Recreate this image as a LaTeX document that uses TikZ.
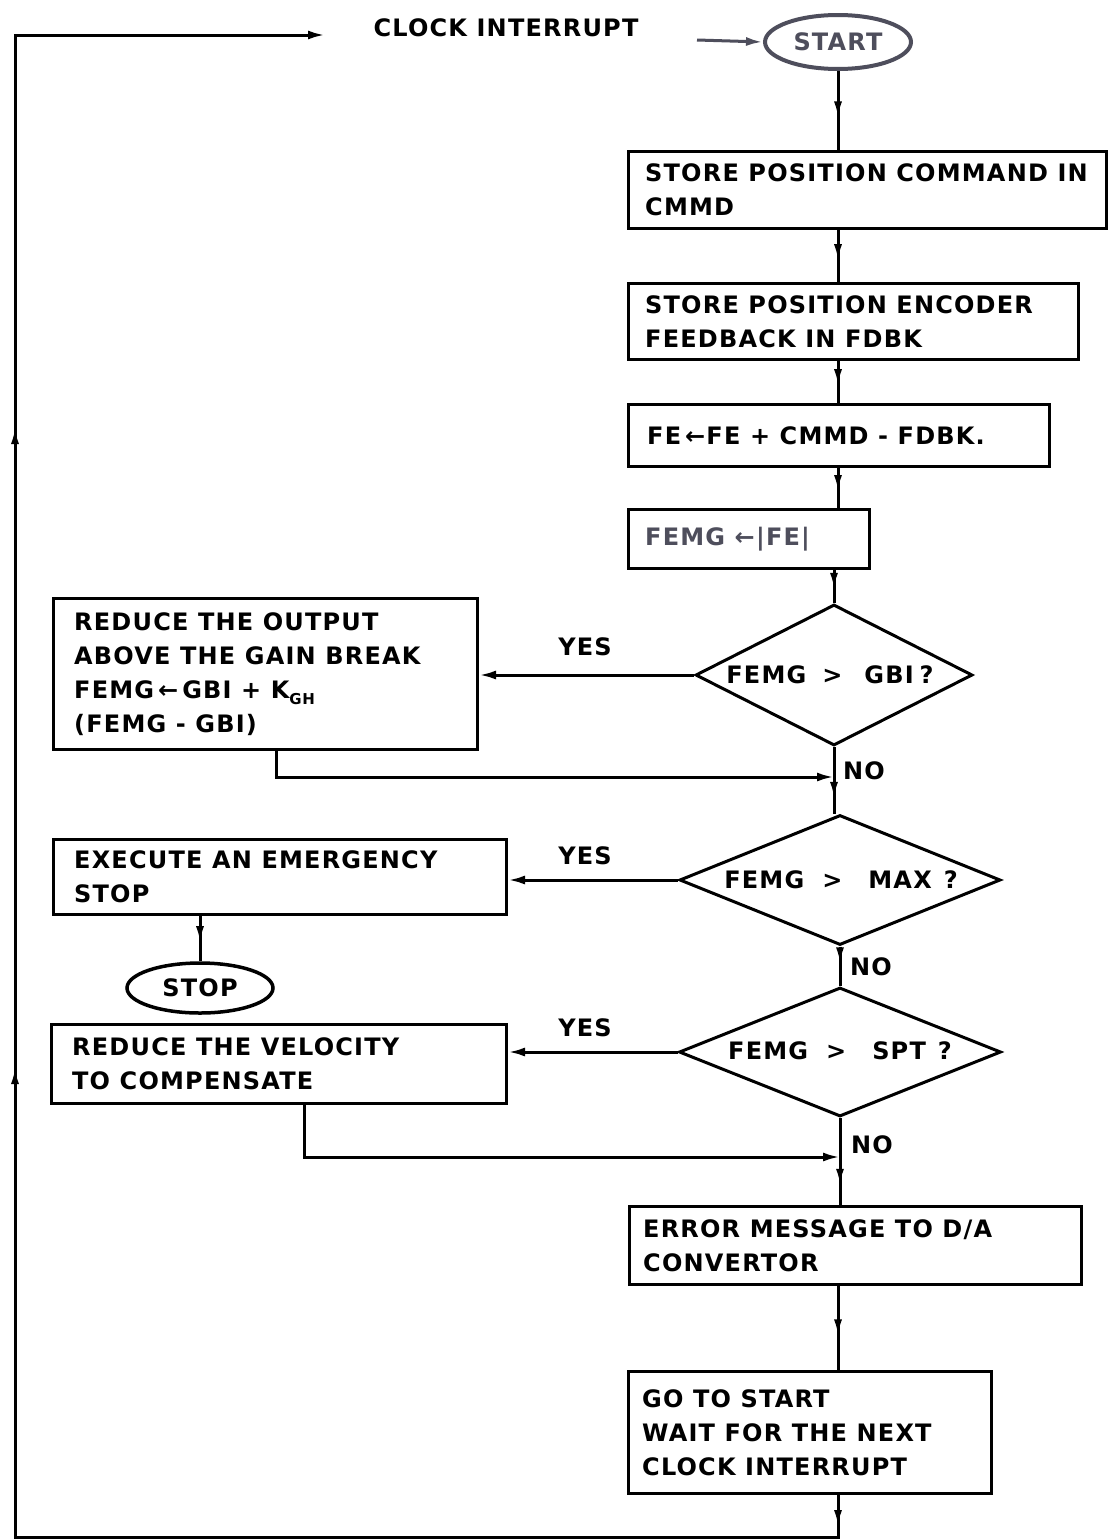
\documentclass[tikz,border=0pt]{standalone}
\usepackage{fontspec}
\setmainfont{DejaVu Sans}[LetterSpace=5]
\usetikzlibrary{arrows.meta,decorations.markings,shapes.geometric}
\definecolor{scangray}{RGB}{78,78,92}
\newcommand\boxfont{\fontsize{24}{34}\selectfont\bfseries}
\begin{document}
\begin{tikzpicture}[x=1pt,y=-1pt,
  flow/.style={line width=3pt, draw=black},
  tipa/.tip={Latex[length=17pt,width=9pt]},
  >=tipa,
  midarrow/.style={postaction={decorate},decoration={markings,
      mark=at position #1 with {\arrow{Latex[length=17pt,width=8pt]}}}},
  midarrow/.default=0.6,
  box/.style={draw, line width=3pt, rectangle, anchor=north west, inner sep=0pt},
  txt/.style={anchor=west, align=left, inner sep=0pt, font=\boxfont},
  lbl/.style={anchor=center, inner sep=0pt, font=\boxfont},
  dia/.style={diamond, draw, line width=3pt, inner sep=0pt},
  oval/.style={ellipse, draw, line width=3.5pt, inner sep=0pt, font=\boxfont}
]
\useasboundingbox (0,0) rectangle (1108,1539);
\fill[white] (0,0) rectangle (1108,1539);

% top
\node[lbl] (clk) at (506,28) {CLOCK INTERRUPT};
\node[oval, draw=scangray, text=scangray, line width=4pt, minimum width=146, minimum height=54] (start) at (838,42) {START};
\coordinate (cin) at (697,40);
\draw[flow, draw=scangray, ->] (cin) -- (start.west);
\coordinate (col) at (838,0);

% boxes
\node[box, minimum width=478, minimum height=77] (b1) at (627,150) {};
\node[txt] (t1) at ([xshift=18pt]b1.west) {STORE POSITION COMMAND IN\\CMMD};
\node[box, minimum width=450, minimum height=76] (b2) at (627,282) {};
\node[txt] (t2) at ([xshift=18pt]b2.west) {STORE POSITION ENCODER\\FEEDBACK IN FDBK};
\node[box, minimum width=421, minimum height=62] (b3) at (627,403) {};
\node[txt] (t3) at ([xshift=20pt]b3.west) {FE\,←FE + CMMD - FDBK.};
\node[box, minimum width=241, minimum height=59] (b4) at (627,508) {};
\node[txt, text=scangray] (t4) at ([xshift=18pt]b4.west) {FEMG ←|FE|};

% decisions
\node[dia, minimum width=277, minimum height=141] (d1) at (834,675) {};
\node[lbl] (q1) at (830,675) {FEMG\hspace{16pt}>\hspace{22pt}GBI\hspace{6pt}?};
\node[dia, minimum width=321, minimum height=130] (d2) at (840,880) {};
\node[lbl] (q2) at (841,880) {FEMG\hspace{18pt}>\hspace{26pt}MAX\hspace{12pt}?};
\node[dia, minimum width=322, minimum height=129] (d3) at (840,1052) {};
\node[lbl] (q3) at (840,1051) {FEMG\hspace{18pt}>\hspace{26pt}SPT\hspace{12pt}?};

% side boxes
\node[box, minimum width=424, minimum height=151] (b5) at (52,597) {};
\node[txt] (t5) at ([xshift=22pt]b5.west) {REDUCE THE OUTPUT\\ABOVE THE GAIN BREAK\\FEMG\,←\,GBI + K\raisebox{-6pt}{\fontsize{15}{15}\selectfont GH}\\(FEMG - GBI)};
\node[box, minimum width=453, minimum height=75] (b6) at (52,838) {};
\node[txt] (t6) at ([xshift=22pt]b6.west) {EXECUTE AN EMERGENCY\\STOP};
\node[oval, minimum width=146, minimum height=50] (stop) at (200,988) {STOP};
\node[box, minimum width=455, minimum height=79] (b7) at (50,1023) {};
\node[txt] (t7) at ([xshift=22pt]b7.west) {REDUCE THE VELOCITY\\TO COMPENSATE};

% lower boxes
\node[box, minimum width=452, minimum height=78] (b8) at (628,1205) {};
\node[txt] (t8) at ([xshift=15pt]b8.west) {ERROR MESSAGE TO D/A\\CONVERTOR};
\node[box, minimum width=363, minimum height=122] (b9) at (627,1370) {};
\node[txt] (t9) at ([xshift=15pt]b9.west) {GO TO START\\WAIT FOR THE NEXT\\CLOCK INTERRUPT};

% labels
\node[lbl] (y1) at (585,647) {YES};
\node[lbl] (y2) at (585,856) {YES};
\node[lbl] (y3) at (585,1028) {YES};
\node[lbl] (n1) at (864,771) {NO};
\node[lbl] (n2) at (871,967) {NO};
\node[lbl] (n3) at (872,1145) {NO};

% main column
\draw[flow, midarrow] (start.south) -- (start.south |- b1.north);
\draw[flow, midarrow] (b1.south -| col) -- (b2.north -| col);
\draw[flow, midarrow] (b2.south -| col) -- (b3.north -| col);
\draw[flow, midarrow] (b3.south -| col) -- (b4.north -| col);
\draw[flow, midarrow] (b4.south -| d1.north) -- (d1.north);

% decision 1
\draw[flow, ->] (d1.west) -- (d1.west -| b5.east);
\path (d1.south) ++(0,30) coordinate (j1);
\draw[flow] (d1.south) -- (j1);
\draw[flow, ->] ([xshift=11pt]b5.south) |- (j1);
\draw[flow, midarrow] (j1) -- (j1 |- d2.north);

% decision 2
\draw[flow, ->] (d2.west) -- (d2.west -| b6.east);
\draw[flow, midarrow] (stop.north |- b6.south) -- (stop.north);
\draw[flow, midarrow=0.45] (d2.south) -- (d3.north);

% decision 3
\draw[flow, ->] (d3.west) -- (d3.west -| b7.east);
\path (d3.south) ++(0,39) coordinate (j2);
\draw[flow] (d3.south) -- (j2);
\draw[flow, ->] ([xshift=25pt]b7.south) |- (j2);
\draw[flow, midarrow] (j2) -- (j2 |- b8.north);
\draw[flow, midarrow] (b8.south -| col) -- (b9.north -| col);

% loop back
\coordinate (c1) at (838,1537);
\coordinate (c2) at (15,1537);
\coordinate (c3) at (15,35);
\coordinate (loopend) at (325,35);
\draw[flow, line join=miter, ->, postaction={decorate}, decoration={markings,
    mark=at position 32pt with {\arrow{Latex[length=17pt,width=8pt]}},
    mark=at position 1335pt with {\arrow{Latex[length=17pt,width=8pt]}},
    mark=at position 1975pt with {\arrow{Latex[length=17pt,width=8pt]}}}]
  (b9.south -| col) -- (c1) -- (c2) -- (c3) -- (loopend);
\end{tikzpicture}
\end{document}
